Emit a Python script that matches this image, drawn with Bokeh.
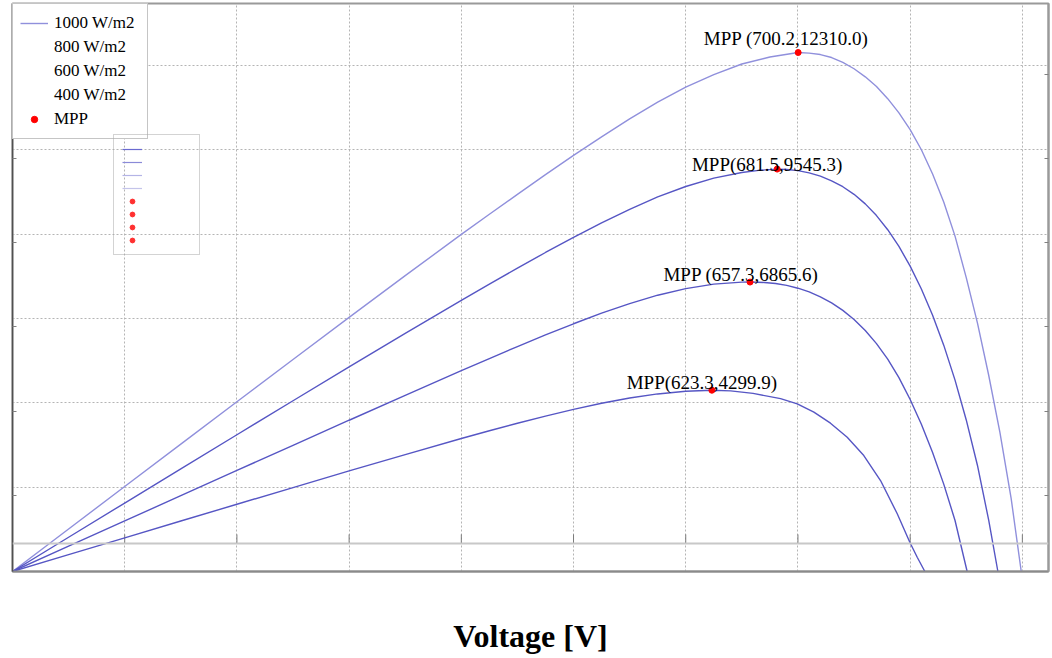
from bokeh.plotting import figure
from bokeh.models import (Range1d, FixedTicker, LinearAxis, Legend, LegendItem,
                          Span, ColumnDataSource)
from bokeh.core.properties import value
from bokeh.embed import file_html
from bokeh.resources import INLINE

# ---------------- data ----------------
voltage_1000 = [0, 50, 100, 150, 200, 250, 300, 350, 400, 425, 450, 475, 500, 525, 550, 575,
                600, 625, 650, 675, 700.2, 710, 720, 730, 740, 750, 760, 770, 780, 790, 800,
                810, 820, 830, 840, 850, 860, 870, 880, 890, 899]
power_1000 = [0, 1008, 2016, 3022, 4028, 5030, 6027, 7017, 7996, 8474, 8946, 9414, 9870, 10311,
              10736, 11132, 11490, 11787, 12038, 12204, 12310, 12297, 12262, 12191, 12077,
              11925, 11734, 11504, 11216, 10878, 10480, 10004, 9430, 8757, 7955, 6970, 5891,
              4655, 3300, 1736, 0]

voltage_800 = [0, 50, 100, 150, 200, 250, 300, 350, 400, 425, 450, 475, 500, 525, 550, 575,
               600, 625, 650, 665, 681.5, 690, 700, 710, 720, 730, 740, 750, 760, 770, 780,
               790, 800, 810, 820, 830, 840, 850, 860, 870, 878.2]
power_800 = [0, 812, 1624, 2434, 3244, 4050, 4854, 5649, 6432, 6817, 7195, 7567, 7925, 8269,
             8591, 8884, 9132, 9331, 9464, 9516, 9545.3, 9537, 9509, 9456, 9377, 9268, 9127,
             8947, 8720, 8442, 8107, 7710, 7243, 6702, 6080, 5363, 4539, 3595, 2515, 1218, 0]

voltage_600 = [0, 50, 100, 150, 200, 250, 300, 350, 400, 425, 450, 475, 500, 525, 550, 575,
               600, 625, 650, 657.3, 670, 680, 690, 700, 710, 720, 730, 740, 750, 760, 770,
               780, 790, 800, 810, 820, 830, 840, 850.8]
power_600 = [0, 600, 1200, 1798, 2397, 2994, 3588, 4179, 4763, 5051, 5335, 5611, 5876, 6127,
             6355, 6554, 6711, 6816, 6864, 6865.6, 6856, 6830, 6786, 6720, 6631, 6516, 6373,
             6194, 5978, 5715, 5405, 5039, 4598, 4080, 3491, 2821, 2067, 1210, 0]

voltage_400 = [0, 50, 100, 150, 200, 250, 300, 350, 400, 425, 450, 475, 500, 525, 550, 575,
               600, 623.3, 640, 660, 684.5, 699.4, 714.2, 729, 743.9, 758.7, 773.6, 788.5,
               799.7, 806.3, 813.1]
power_400 = [0, 400, 799, 1197, 1595, 1991, 2385, 2774, 3154, 3338, 3517, 3687, 3846, 3990,
             4114, 4212, 4276, 4299.9, 4285, 4224, 4100, 3977, 3780, 3518, 3186, 2751, 2158,
             1369, 695, 339, 0]

mpp_voltage = [700.2, 681.5, 657.3, 623.3]
mpp_power = [12310.0, 9545.3, 6865.6, 4299.9]
mpp_labels = ["MPP (700.2,12310.0)", "MPP(681.5,9545.3)", "MPP (657.3,6865.6)", "MPP(623.3,4299.9)"]

legend_labels = ["1000 W/m2", "800 W/m2", "600 W/m2", "400 W/m2", "MPP"]

x_grid_ticks = [100, 200, 300, 400, 500, 600, 700, 800, 900]
y_grid_ticks = [2000, 4000, 6000, 8000, 10000, 12000]
y_axis_ticks = [1800, 3800, 5800, 7800, 9800, 11800]
lower_axis_level = 664
lower_tick_top = 880

# ---------------- figure ----------------
p = figure(width=1052, height=658, output_backend="svg", toolbar_location=None,
           x_range=Range1d(0, 923.3), y_range=Range1d(0, 13473),
           min_border_left=12, min_border_right=4, min_border_top=3, min_border_bottom=87)
p.background_fill_color = "white"
p.border_fill_color = "white"
p.outline_line_color = "#9a9a9a"
p.outline_line_width = 2

# grids
p.xgrid.ticker = FixedTicker(ticks=x_grid_ticks)
p.ygrid.ticker = FixedTicker(ticks=y_grid_ticks)
for g in (p.xgrid, p.ygrid):
    g.grid_line_color = "#b4b4b4"
    g.grid_line_dash = "2 2"
    g.grid_line_width = 1

# bottom axis (no ticks / tick labels, only the title)
xa = p.xaxis[0]
xa.ticker = FixedTicker(ticks=[])
xa.major_tick_in = 0
xa.major_tick_out = 0
xa.minor_tick_line_color = None
xa.major_label_standoff = 0
xa.axis_line_color = "#8a8a8a"
xa.axis_line_width = 2
xa.axis_label = "Voltage [V]"
xa.axis_label_text_font = "Liberation Serif"
xa.axis_label_text_font_style = "bold"
xa.axis_label_text_font_size = "32px"
xa.axis_label_text_color = "black"
xa.axis_label_standoff = 46

# left axis: inward ticks only
ya = p.yaxis[0]
ya.ticker = FixedTicker(ticks=y_axis_ticks)
ya.major_tick_in = 4
ya.major_tick_out = 0
ya.major_tick_line_color = "#808080"
ya.minor_tick_line_color = None
ya.major_label_text_font_size = "1px"
ya.major_label_text_color = None
ya.major_label_standoff = 0
ya.axis_line_color = "#505050"
ya.axis_line_width = 1.5

# right axis
ra = LinearAxis(ticker=FixedTicker(ticks=y_axis_ticks), major_tick_in=4, major_tick_out=0,
                major_tick_line_color="#808080", minor_tick_line_color=None,
                major_label_text_font_size="1px", major_label_text_color=None,
                major_label_standoff=0, axis_line_color="#9a9a9a", axis_line_width=2)
p.add_layout(ra, "right")

# secondary (lower) axis line seen in the picture, with its small ticks
p.add_layout(Span(location=lower_axis_level, dimension="width", line_color="#c8c8c8",
                  line_width=2))
p.segment(x0=x_grid_ticks, y0=[lower_axis_level] * len(x_grid_ticks),
          x1=x_grid_ticks, y1=[lower_tick_top] * len(x_grid_ticks),
          line_color="#7a7a7a", line_width=1)

# ---------------- curves ----------------
pale = "#9090dc"
blue = "#5656c4"
r1000 = p.line(voltage_1000, power_1000, line_color=pale, line_width=1.4)
r800 = p.line(voltage_800, power_800, line_color=blue, line_width=1.4)
r600 = p.line(voltage_600, power_600, line_color=blue, line_width=1.4)
r400 = p.line(voltage_400, power_400, line_color=blue, line_width=1.4)

mpp_src = ColumnDataSource(dict(v=mpp_voltage, p=mpp_power, t=mpp_labels,
                                dx=[-12, -10, -9, -10], dy=[-14, -5, -8, -8]))
rmpp = p.scatter("v", "p", source=mpp_src, size=6, color="#ff0000")
p.text("v", "p", text="t", source=mpp_src, x_offset="dx", y_offset="dy",
       text_font=value("Liberation Serif"), text_font_size="19px", text_align="center",
       text_baseline="middle", text_color="black")

# ---------------- legends ----------------
def ghost():
    return ColumnDataSource(dict(x=[float("nan")], y=[float("nan")]))

blank = [p.line("x", "y", source=ghost(), line_alpha=0) for _ in range(3)]

legend = Legend(items=[LegendItem(label=legend_labels[0], renderers=[r1000]),
                       LegendItem(label=legend_labels[1], renderers=[blank[0]]),
                       LegendItem(label=legend_labels[2], renderers=[blank[1]]),
                       LegendItem(label=legend_labels[3], renderers=[blank[2]]),
                       LegendItem(label=legend_labels[4], renderers=[rmpp])],
                location="top_left", margin=0, padding=7, spacing=0,
                glyph_width=28, glyph_height=16, label_height=24, label_width=86,
                label_standoff=6, label_text_font="Liberation Serif",
                label_text_font_size="17px", label_text_color="black",
                border_line_color="#8c8c8c", border_line_width=1,
                background_fill_color="white", background_fill_alpha=1)
p.add_layout(legend)

# small ghost legend box visible under the main legend
mini_cols = ["#6a6ad0", "#8a8ad8", "#b4b4e6", "#c4c4ea"]
mini_lines = [p.line("x", "y", source=ghost(), line_color=c, line_width=1.2)
              for c in mini_cols]
mini_dots = [p.scatter("x", "y", source=ghost(), size=4, color="#ff3030")
             for _ in range(4)]
mini = Legend(items=[LegendItem(label=" ", renderers=[r]) for r in mini_lines + mini_dots],
              location=(101, 316), margin=0, padding=8, spacing=1,
              glyph_width=20, glyph_height=12, label_height=12, label_width=49,
              label_standoff=0, label_text_font_size="8px", label_text_color=None,
              border_line_color="#a8a8a8", border_line_width=1.5,
              background_fill_alpha=0)
p.add_layout(mini)

open("out.html", "w").write(file_html(p, INLINE))
